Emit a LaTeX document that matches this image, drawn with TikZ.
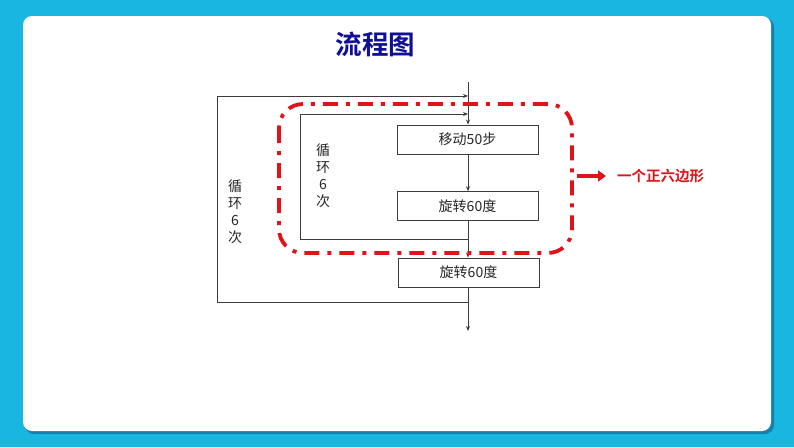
\documentclass[tikz,border=0pt]{standalone}
\usepackage{fontspec}
\setmainfont{Noto Sans CJK SC}
\newfontfamily\cjkb[BoldFont={Noto Sans CJK SC Bold}]{Noto Sans CJK SC}
\usetikzlibrary{arrows.meta}
\definecolor{bgcyan}{RGB}{26,182,226}
\definecolor{shadowc}{RGB}{18,130,170}
\definecolor{titleblue}{RGB}{16,16,150}
\definecolor{hred}{RGB}{224,18,26}
\definecolor{linec}{RGB}{60,60,60}
\tikzset{
  flowbox/.style={draw=linec, line width=0.9, minimum width=141, minimum height=29, inner sep=0, font=\fontsize{14}{16}\selectfont, text=black!85},
  arr/.style={draw=linec, line width=0.9, -{Stealth[length=5,width=4]}},
  ln/.style={draw=linec, line width=0.9},
  vtext/.style={align=center, inner sep=0, font=\fontsize{14}{17}\selectfont, text=black!85},
}
\begin{document}
\begin{tikzpicture}[x=1pt,y=-1pt]
\useasboundingbox (0,0) rectangle (794,447);
\fill[bgcyan] (0,0) rectangle (794,447);
\fill[shadowc, rounded corners=9] (25,18) rectangle (774,434);
\fill[white, rounded corners=9] (23,16) rectangle (771,431);
% title
\node[font=\cjkb\fontsize{26.5}{28}\selectfont\bfseries, text=titleblue] (title) at (375.5,44) {流程图};
% flow boxes
\node[flowbox] (b1) at (467.5,139.5) {移动50步};
\node[flowbox] (b2) at (467.5,206.2) {旋转60度};
\node[flowbox] (b3) at (468.5,272.5) {旋转60度};
\coordinate (top) at (468,82);
\coordinate (bot) at (468,331);
\draw[arr] (top) -- (b1.north -| top);
\draw[arr] (b1.south -| top) -- (b2.north -| top);
\draw[arr] (b2.south -| top) -- (b3.north -| top);
\draw[arr] (b3.south -| top) -- (bot);
% outer loop
\coordinate (obot) at (468,302);
\coordinate (oleft) at (217,302);
\coordinate (otop) at (468,96);
\draw[arr] (obot) -- (oleft) |- (otop);
% inner loop
\coordinate (ibot) at (468,239.5);
\coordinate (ileft) at (300,239.5);
\coordinate (itop) at (468,114);
\draw[arr] (ibot) -- (ileft) |- (itop);
% loop labels
\node[vtext] (lo) at (235,212) {循\\环\\6\\次};
\node[vtext] (li) at (323,176) {循\\环\\6\\次};
% red dash-dot frame
\draw[hred, line width=3.8, rounded corners=24, dash pattern=on 15 off 8 on 4 off 8] (279,104) rectangle (572,253);
\coordinate (ra) at (577,176);
\node[anchor=west, inner sep=0, font=\cjkb\fontsize{14.5}{16}\selectfont\bfseries, text=hred] (hex) at (617,176) {一个正六边形};
\draw[hred, line width=4, -{Triangle[length=8,width=11]}] (ra) -- (606,176);
\end{tikzpicture}
\end{document}
